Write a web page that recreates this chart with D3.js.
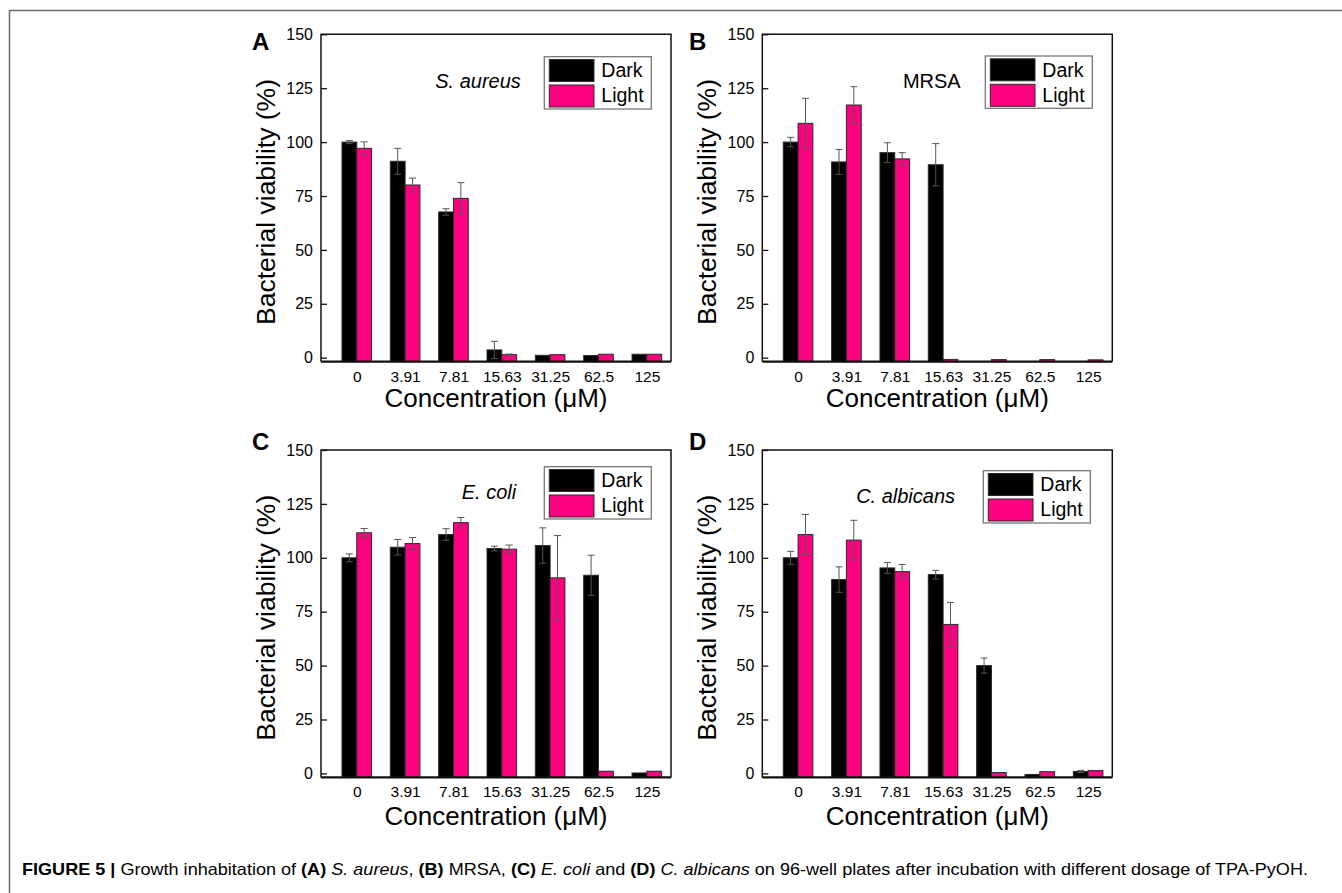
<meta charset="utf-8">
<head>
<style>
  body { margin: 0; background: #fff; }
  svg { display: block; font-family: Arial, "Liberation Sans", sans-serif; }
</style>
</head>
<body>
<div id="chartId"></div>
</body>
<script src="https://d3js.org/d3.v7.min.js"></script>
<script>

// Data
var categories = ["0", "3.91", "7.81", "15.63", "31.25", "62.5", "125"];
var yTicks = [0, 25, 50, 75, 100, 125, 150];
var seriesNames = ["Dark", "Light"];

var saDark     = [100, 91.1, 67.6, 3.6, 1.1, 1.0, 1.6];
var saDarkErr  = [0.7, 6.0, 1.5, 4.0, 0.2, 0.2, 0.2];
var saLight    = [97.1, 80.1, 73.9, 1.4, 1.4, 1.6, 1.6];
var saLightErr = [3.0, 3.2, 7.3, 0.3, 0.2, 0.2, 0.2];

var mrDark     = [100, 90.8, 95.1, 89.5, -1.9, -1.9, -1.9];
var mrDarkErr  = [2.2, 5.8, 4.6, 9.8, 0, 0, 0];
var mrLight    = [108.7, 117.2, 92.2, -0.8, -0.9, -0.9, -1.0];
var mrLightErr = [11.6, 8.5, 2.9, 0.2, 0.2, 0.2, 0.2];

var ecDark     = [100, 104.9, 110.8, 104.3, 105.7, 91.9, 0.2];
var ecDarkErr  = [1.8, 3.6, 2.7, 1.1, 8.2, 9.3, 0.2];
var ecLight    = [111.6, 106.6, 116.3, 104.0, 90.7, 1.0, 1.0];
var ecLightErr = [2.0, 2.8, 2.4, 1.9, 19.6, 0.2, 0.2];

var caDark     = [100, 89.9, 95.3, 92.2, 50.0, -0.5, 0.9];
var caDarkErr  = [3.0, 5.9, 2.5, 2.0, 3.5, 0.2, 0.5];
var caLight    = [110.8, 108.2, 93.6, 69.1, 0.4, 0.8, 1.3];
var caLightErr = [9.3, 9.2, 3.3, 10.2, 0.2, 0.2, 0.2];

var colors = ["#000000", "#ff0080"];

// Layout of each panel
var panels = [
  { letter: "A", label: "S. aureus", italic: true, left: 321, top: 34.3,
    dark: saDark, darkErr: saDarkErr, light: saLight, lightErr: saLightErr,
    letterX: 252, letterY: 49.5, labelX: 157, labelY: 54, legX: 223.3, legY: 22.4, titleDy: 45 },
  { letter: "B", label: "MRSA", italic: false, left: 762.3, top: 34.3,
    dark: mrDark, darkErr: mrDarkErr, light: mrLight, lightErr: mrLightErr,
    letterX: 689, letterY: 49.5, labelX: 169.5, labelY: 54, legX: 223, legY: 21.7, titleDy: 45 },
  { letter: "C", label: "E. coli", italic: true, left: 321, top: 450,
    dark: ecDark, darkErr: ecDarkErr, light: ecLight, lightErr: ecLightErr,
    letterX: 252, letterY: 449.5, labelX: 168, labelY: 49.3, legX: 223.3, legY: 16.7, titleDy: 47.5 },
  { letter: "D", label: "C. albicans", italic: true, left: 762.3, top: 450,
    dark: caDark, darkErr: caDarkErr, light: caLight, lightErr: caLightErr,
    letterX: 689, letterY: 450, labelX: 143.3, labelY: 52.7, legX: 221, legY: 20.7, titleDy: 47.5 }
];

var W = 1342, H = 893;
var pw = 350, ph = 327.4;

var svg = d3.select("#chartId").append("svg")
  .attr("width", W)
  .attr("height", H);

// outer figure frame (top + left only)
svg.append("path")
  .attr("d", "M9.5," + H + "V10.5H" + W)
  .attr("fill", "none")
  .attr("stroke", "#6d6d6d")
  .attr("stroke-width", 1.6);

var x = d3.scaleLinear().domain([-0.74, 6.5]).range([0, pw]);
var y = d3.scaleLinear().domain([-1.86, 150]).range([ph, 0]);
var bw = x(0.306) - x(0);

panels.forEach(function(p) {
  var g = svg.append("g").attr("transform", "translate(" + p.left + "," + p.top + ")");

  var rows = categories.map(function(c, i) {
    return [
      { s: 0, i: i, v: p.dark[i], e: p.darkErr[i] },
      { s: 1, i: i, v: p.light[i], e: p.lightErr[i] }
    ];
  });
  var bars = d3.merge(rows);

  g.selectAll("rect.bar")
    .data(bars)
    .enter()
    .append("rect")
    .attr("class", "bar")
    .attr("x", function(d) { return x(d.i) - (d.s === 0 ? bw : 0); })
    .attr("y", function(d) { return y(d.v); })
    .attr("width", bw)
    .attr("height", function(d) { return Math.max(0, ph - y(d.v)); })
    .attr("fill", function(d) { return colors[d.s]; })
    .attr("stroke", "#2a2a2a")
    .attr("stroke-width", 1);

  // error bars
  var eb = g.selectAll("g.err")
    .data(bars.filter(function(d) { return d.e > 0.25; }))
    .enter()
    .append("g")
    .attr("class", "err")
    .attr("stroke", "#555")
    .attr("stroke-width", 1);

  function cx(d) { return x(d.i) + (d.s === 0 ? -bw / 2 : bw / 2); }

  eb.append("line")
    .attr("x1", cx).attr("x2", cx)
    .attr("y1", function(d) { return y(d.v - d.e); })
    .attr("y2", function(d) { return y(d.v + d.e); });
  eb.append("line")
    .attr("x1", function(d) { return cx(d) - 3.5; })
    .attr("x2", function(d) { return cx(d) + 3.5; })
    .attr("y1", function(d) { return y(d.v + d.e); })
    .attr("y2", function(d) { return y(d.v + d.e); });
  eb.append("line")
    .attr("x1", function(d) { return cx(d) - 3.5; })
    .attr("x2", function(d) { return cx(d) + 3.5; })
    .attr("y1", function(d) { return y(d.v - d.e); })
    .attr("y2", function(d) { return y(d.v - d.e); });

  // axes
  var yAxis = d3.axisLeft(y)
    .tickValues(yTicks)
    .tickSize(-6)
    .tickPadding(8);
  var ya = g.append("g").call(yAxis);
  ya.select(".domain").remove();
  ya.selectAll("line").attr("stroke", "#111").attr("stroke-width", 1.3);
  ya.selectAll("text").attr("font-size", 16).attr("fill", "#000")
    .attr("font-family", "Arial, 'Liberation Sans', sans-serif");

  var xAxis = d3.axisBottom(x)
    .tickValues(d3.range(categories.length))
    .tickFormat(function(d) { return categories[d]; })
    .tickSize(0)
    .tickPadding(9);
  var xa = g.append("g").attr("transform", "translate(0," + ph + ")").call(xAxis);
  xa.select(".domain").remove();
  xa.selectAll("text").attr("font-size", 15.5).attr("fill", "#000")
    .attr("font-family", "Arial, 'Liberation Sans', sans-serif");

  // frame
  g.append("path")
    .attr("d", "M0," + ph + "V0H" + pw + "V" + ph)
    .attr("fill", "none")
    .attr("stroke", "#111")
    .attr("stroke-width", 1.5);
  g.append("line")
    .attr("x1", 0).attr("x2", pw)
    .attr("y1", ph).attr("y2", ph)
    .attr("stroke", "#111")
    .attr("stroke-width", 2.2);

  // titles
  g.append("text")
    .attr("x", pw / 2)
    .attr("y", ph + p.titleDy)
    .attr("text-anchor", "middle")
    .attr("font-size", 26)
    .text("Concentration (μM)");

  g.append("text")
    .attr("transform", "translate(" + (-46) + "," + (ph / 2 + 4) + ") rotate(-90)")
    .attr("text-anchor", "middle")
    .attr("font-size", 26.5)
    .text("Bacterial viability (%)");

  g.append("text")
    .attr("x", p.labelX)
    .attr("y", p.labelY)
    .attr("text-anchor", "middle")
    .attr("font-size", 20)
    .attr("font-style", p.italic ? "italic" : "normal")
    .text(p.label);

  // legend
  var leg = g.append("g").attr("transform", "translate(" + p.legX + "," + p.legY + ")");
  leg.append("rect")
    .attr("width", 107).attr("height", 52.3)
    .attr("fill", "#fff")
    .attr("stroke", "#777")
    .attr("stroke-width", 1.3);
  seriesNames.forEach(function(n, k) {
    leg.append("rect")
      .attr("x", 5).attr("y", 2.8 + k * 25.5)
      .attr("width", 44.7).attr("height", 22)
      .attr("fill", colors[k])
      .attr("stroke", "#2a2a2a")
      .attr("stroke-width", 1);
    leg.append("text")
      .attr("x", 57)
      .attr("y", 20.6 + k * 25)
      .attr("font-size", 19.5)
      .text(n);
  });

  // panel letter
  svg.append("text")
    .attr("x", p.letterX)
    .attr("y", p.letterY)
    .attr("font-size", 24)
    .attr("font-weight", "bold")
    .text(p.letter);
});

// caption
var cap = svg.append("text")
  .attr("x", 22)
  .attr("y", 875)
  .attr("font-size", 16.5)
  .attr("textLength", 1286)
  .attr("lengthAdjust", "spacingAndGlyphs");
var parts = [
  ["FIGURE 5 | ", "bold", "normal"],
  ["Growth inhabitation of ", "normal", "normal"],
  ["(A)", "bold", "normal"], [" ", "normal", "normal"],
  ["S. aureus", "normal", "italic"], [", ", "normal", "normal"],
  ["(B)", "bold", "normal"], [" MRSA, ", "normal", "normal"],
  ["(C)", "bold", "normal"], [" ", "normal", "normal"],
  ["E. coli", "normal", "italic"], [" and ", "normal", "normal"],
  ["(D)", "bold", "normal"], [" ", "normal", "normal"],
  ["C. albicans", "normal", "italic"],
  [" on 96-well plates after incubation with different dosage of TPA-PyOH.", "normal", "normal"]
];
cap.selectAll("tspan")
  .data(parts)
  .enter()
  .append("tspan")
  .attr("font-weight", function(d) { return d[1]; })
  .attr("font-style", function(d) { return d[2]; })
  .text(function(d) { return d[0]; });

</script>
